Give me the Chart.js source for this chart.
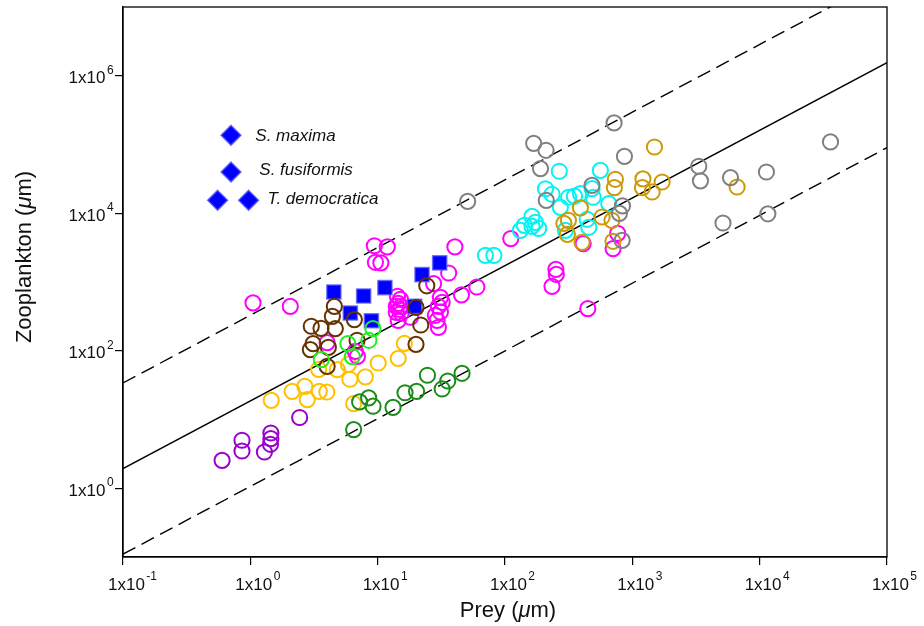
<!DOCTYPE html>
<html>
<head>
<meta charset="utf-8">
<script src="https://cdn.jsdelivr.net/npm/chart.js@4.4.1/dist/chart.umd.min.js"></script>
<style>
  html, body { margin: 0; padding: 0; background: #fff; }
  #wrap { width: 924px; height: 626px; }
</style>
</head>
<body>
<div id="wrap"><canvas id="chart" width="924" height="626"></canvas></div>
<script>
// prey size (x) vs zooplankton size (y), both in µm
const purpleX = [0.60, 0.86, 0.86, 1.29, 1.45, 1.45, 1.44, 2.44];
const purpleY = [2.55, 4.99, 3.48, 3.37, 6.36, 5.27, 4.36, 10.7];

const orangeX = [1.46, 2.13, 2.68, 2.80, 3.48, 3.99, 3.44, 4.82, 6.05, 6.48, 8.0, 10.1, 5.89, 14.5, 16.2];
const orangeY = [19.0, 25.7, 30.4, 19.5, 25.7, 25.1, 53.7, 53.2, 38.5, 17.0, 41.8, 66.4, 63.5, 77.6, 128];

const darkGreenX = [6.48, 7.22, 8.50, 9.20, 13.2, 16.4, 20.2, 24.6, 32.1, 35.5, 46.0];
const darkGreenY = [7.13, 18.0, 20.6, 15.6, 15.0, 24.5, 25.7, 44.0, 27.8, 36.3, 47.0];

const limeX = [3.61, 5.83, 6.32, 8.53, 9.17];
const limeY = [74.3, 127, 82.2, 142, 210];

const brownX = [4.57, 4.41, 3.01, 3.59, 4.65, 6.56, 3.11, 2.96, 4.10, 4.01, 6.89, 20.0, 24.3, 21.8, 20.0];
const brownY = [443, 317, 227, 212, 210, 284, 127, 104, 112, 59.4, 142, 428, 881, 237, 124];

const magentaX = [1.05, 2.06, 4.01, 6.68, 6.93, 9.42, 11.9, 9.6, 10.6,
    14.3, 15.1, 14.5, 14.0, 15.3, 14.8, 14.0, 15.3, 14.5,
    31.1, 32.1, 30.0, 31.1, 28.4, 29.3, 30.0,
    18.1, 27.5, 36.1, 40.4, 45.5, 60.1, 111, 251, 253, 234, 447, 411, 706, 767];
const magentaY = [498, 443, 131, 98, 83, 3365, 3250, 1935, 1900,
    620, 560, 490, 443, 443, 401, 362, 351, 277,
    599, 507, 443, 366, 328, 277, 219,
    307, 948, 1352, 3250, 651, 846, 4280, 1530, 1294, 866, 410, 3620, 3060, 5110];

// salps (filled squares)
const salpX = [4.53, 7.76, 11.4, 22.3, 30.7, 6.1, 8.93, 19.5];
const salpY = [716, 626, 829, 1282, 1900, 354, 273, 443];

const cyanX = [70.2, 81.8, 132, 142, 163, 163, 173, 184, 208, 234, 267, 272, 298, 316, 351, 391, 442, 455, 483, 492, 561, 653];
const cyanY = [2445, 2445, 5650, 6680, 9030, 6460, 7380, 6040, 22700, 18900, 40800, 12200, 5650, 17100, 17700, 19300, 8170, 6250, 22800, 17100, 42100, 13800];

const goldX = [290, 315, 309, 391, 403, 579, 692, 705, 736, 723, 1211, 1200, 1431, 1714, 1492, 6650];
const goldY = [7140, 7890, 4940, 12000, 3780, 8820, 7890, 3910, 31200, 23600, 31700, 23600, 20400, 28500, 92000, 24100];

const grayX = [50.9, 168, 210, 190, 211, 482, 719, 867, 836, 792, 832, 3324, 3428, 5900, 11300, 36000, 11600, 5150];
const grayY = [14900, 104000, 82400, 44600, 15400, 25500, 206000, 67300, 12800, 9980, 4040, 48200, 29600, 33000, 39800, 109000, 9820, 7210];

// regression line and its upper / lower bounds (end points)
const fitX = [0.1, 100000];
const fitMidY = [1.93, 1550000];
const fitUpY = [34, 27500000];
const fitLowY = [0.11, 90000];

const xTicks = [0.1, 1, 10, 100, 1000, 10000, 100000];
const yTicks = [1, 100, 10000, 1000000];

const FONT = '"Liberation Sans", Arial, sans-serif';

function pts(xs, ys) {
    return xs.map((x, i) => ({x: x, y: ys[i]}));
}

function rings(label, xs, ys, color) {
    return {
        label: label, data: pts(xs, ys),
        pointStyle: "circle", pointRadius: 7.6,
        pointBorderColor: color, pointBackgroundColor: "rgba(0,0,0,0)",
        pointBorderWidth: 2, showLine: false,
    };
}

function fitLine(ys, dash) {
    return {
        data: pts(fitX, ys), showLine: true, pointRadius: 0,
        borderColor: "#000", borderWidth: 1.4, borderDash: dash,
    };
}

// "1x10" with a raised exponent
function powLabel(ctx, v, x, y, align) {
    const e = String(Math.round(Math.log10(v)));
    ctx.font = "17px " + FONT;
    const w1 = ctx.measureText("1x10").width;
    ctx.font = "12px " + FONT;
    const w2 = ctx.measureText(e).width;
    const left = align === "right" ? x - w1 - 1.5 - w2 : x;
    ctx.font = "17px " + FONT;
    ctx.fillText("1x10", left, y);
    ctx.font = "12px " + FONT;
    ctx.fillText(e, left + w1 + 1.5, y - 9.3);
}

// text in pieces, some italic
function richText(ctx, parts, size, x, y) {
    let cx = x;
    for (const p of parts) {
        ctx.font = (p.it ? "italic " : "") + size + "px " + FONT;
        ctx.fillText(p.t, cx, y);
        cx += ctx.measureText(p.t).width;
    }
}
function richWidth(ctx, parts, size) {
    let w = 0;
    for (const p of parts) {
        ctx.font = (p.it ? "italic " : "") + size + "px " + FONT;
        w += ctx.measureText(p.t).width;
    }
    return w;
}

const legendItems = [
    {text: "S. maxima", marks: [[108, 128.3]], tx: 132.3, ty: 134},
    {text: "S. fusiformis", marks: [[108, 165]], tx: 136.3, ty: 168.3},
    {text: "T. democratica", marks: [[94.6, 193.3], [125.6, 193.3]], tx: 144.6, ty: 196.6},
];

function diamond(ctx, x, y, r) {
    ctx.beginPath();
    ctx.moveTo(x, y - r); ctx.lineTo(x + r, y); ctx.lineTo(x, y + r); ctx.lineTo(x - r, y);
    ctx.closePath();
    ctx.fillStyle = "#0000ff";
    ctx.fill();
    ctx.strokeStyle = "rgba(70,70,255,0.8)";
    ctx.lineWidth = 1.6;
    ctx.stroke();
}

const decor = {
    id: "decor",
    afterDraw(chart) {
        const {ctx, chartArea: a, scales} = chart;
        ctx.save();
        ctx.strokeStyle = "#000";
        ctx.lineWidth = 1.3;
        ctx.strokeRect(a.left, a.top, a.right - a.left, a.bottom - a.top);

        ctx.fillStyle = "#111";
        ctx.textAlign = "left";
        ctx.textBaseline = "alphabetic";
        scales.x.ticks.forEach(t => {
            const px = scales.x.getPixelForValue(t.value);
            powLabel(ctx, t.value, px - 15, a.bottom + 32.6, "left");
        });
        scales.y.ticks.forEach(t => {
            const py = scales.y.getPixelForValue(t.value);
            powLabel(ctx, t.value, a.left - 9.4, py + 7.3, "right");
        });

        // axis titles
        const xt = [{t: "Prey ("}, {t: "\u03bc", it: true}, {t: "m)"}];
        const wx = richWidth(ctx, xt, 22);
        richText(ctx, xt, 22, (a.left + a.right) / 2 + 3 - wx / 2, 617);

        const yt = [{t: "Zooplankton ("}, {t: "\u03bc", it: true}, {t: "m)"}];
        const wy = richWidth(ctx, yt, 22);
        ctx.save();
        ctx.translate(31, a.top + 250);
        ctx.rotate(-Math.PI / 2);
        richText(ctx, yt, 22, -wy / 2, 0);
        ctx.restore();

        // species key
        for (const it of legendItems) {
            for (const m of it.marks) diamond(ctx, a.left + m[0], a.top + m[1], 9.8);
            ctx.fillStyle = "#111";
            ctx.font = "italic 17px " + FONT;
            ctx.fillText(it.text, a.left + it.tx, a.top + it.ty);
        }
        ctx.restore();
    }
};

function axis(min, max, ticks, width, height) {
    return {
        type: "logarithmic", min: min, max: max,
        afterBuildTicks: s => { s.ticks = ticks.map(v => ({value: v})); },
        afterFit: s => {
            if (width) s.width = width;
            if (height) s.height = height;
        },
        ticks: {display: false},
        grid: {display: true, drawOnChartArea: false, drawTicks: true, tickLength: 8, color: "#000", lineWidth: 1.2},
        border: {display: true, color: "#000", width: 1.3},
    };
}

new Chart(document.getElementById("chart"), {
    type: "scatter",
    data: {
        datasets: [
            rings("gray", grayX, grayY, "#808080"),
            rings("gold", goldX, goldY, "#cc9a06"),
            rings("cyan", cyanX, cyanY, "#00f4f4"),
            rings("lime", limeX, limeY, "#22ee22"),
            rings("brown", brownX, brownY, "#663300"),
            {
                label: "salps", data: pts(salpX, salpY),
                pointStyle: "rect", pointRadius: 10,
                pointBackgroundColor: "#0000ff", pointBorderColor: "rgba(90,90,255,0.75)",
                pointBorderWidth: 1.5,
            },
            rings("magenta", magentaX, magentaY, "#ff00ff"),
            rings("darkgreen", darkGreenX, darkGreenY, "#1a8c1a"),
            rings("orange", orangeX, orangeY, "#ffc000"),
            rings("purple", purpleX, purpleY, "#9900cc"),
            fitLine(fitMidY, []),
            fitLine(fitUpY, [14, 7]),
            fitLine(fitLowY, [14, 7]),
        ],
    },
    options: {
        responsive: false,
        animation: false,
        devicePixelRatio: 1,
        layout: {autoPadding: false, padding: {top: 7, right: 37, bottom: 0, left: 0}},
        plugins: {legend: {display: false}, tooltip: {enabled: false}},
        scales: {
            x: axis(0.1, 100000, xTicks, 0, 69),
            y: axis(0.1, 10000000, yTicks, 123, 0),
        },
    },
    plugins: [decor],
});
</script>
</body>
</html>
